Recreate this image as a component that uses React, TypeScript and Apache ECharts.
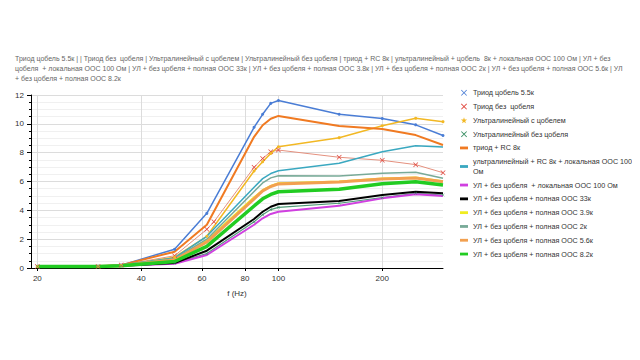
import React, { useEffect, useRef } from "react";
import * as echarts from "echarts";

const FREQ_A = [20, 30, 35, 50, 62, 85, 90, 95, 100, 150, 200, 250, 300];
const FREQ_B = [20, 30, 35, 50, 62, 65, 85, 90, 95, 100, 150, 200, 250, 300];
const X_TICKS = [20, 40, 60, 80, 100, 200];

const triodeZobel55 = [0.1, 0.12, 0.2, 1.3, 3.79, 9.76, 10.66, 11.42, 11.62, 10.67, 10.37, 9.93, 9.19];
const triodeNoZobel = [0.1, 0.1, 0.2, 0.85, 2.68, 3.2, 6.98, 7.6, 8.07, 8.18, 7.68, 7.47, 7.17, 6.61];
const ulZobel = [0.1, 0.1, 0.18, 0.75, 2.2, 6.73, 7.37, 7.95, 8.41, 9.04, 9.87, 10.38, 10.15];
const ulNoZobel = [0.1, 0.1, 0.15, 0.35, 1.0, 3.2, 3.7, 4.05, 4.21, 4.49, 4.88, 5.18, 5.06];
const triodeRC = [0.1, 0.1, 0.2, 1.13, 3.0, 9.1, 9.9, 10.35, 10.55, 9.85, 9.64, 9.22, 8.53];
const ulRCLocal = [0.1, 0.1, 0.2, 0.7, 2.2, 5.6, 6.2, 6.55, 6.75, 7.26, 8.07, 8.48, 8.39];
const ulLocal100 = [0.1, 0.1, 0.15, 0.3, 0.9, 3.0, 3.45, 3.75, 3.9, 4.32, 4.83, 5.11, 4.99];
const fb33 = [0.1, 0.1, 0.15, 0.35, 1.2, 3.4, 3.9, 4.25, 4.44, 4.65, 5.06, 5.29, 5.18];
const fb39 = [0.1, 0.1, 0.15, 0.6, 1.9, 4.9, 5.4, 5.7, 5.88, 6.0, 6.2, 6.28, 6.02];
const fb2 = [0.1, 0.1, 0.15, 0.65, 2.0, 5.3, 5.9, 6.25, 6.4, 6.38, 6.57, 6.64, 6.22];
const fb56 = [0.1, 0.1, 0.15, 0.55, 1.8, 4.8, 5.35, 5.65, 5.83, 5.96, 6.17, 6.24, 5.98];
const fb82 = [0.1, 0.1, 0.15, 0.45, 1.5, 4.3, 4.8, 5.1, 5.29, 5.46, 5.85, 5.99, 5.76];

const TITLE_LINES = [
  "Триод цобель 5.5к | | Триод без  цобеля | Ультралинейный с цобелем | Ультралинейный без цобеля | триод + RC 8к | ультралинейный + цобель  8к + локальная ООС 100 Ом | УЛ + без",
  "цобеля  + локальная ООС 100 Ом | УЛ + без цобеля + полная ООС 33к | УЛ + без цобеля + полная ООС 3.8к | УЛ + без цобеля + полная ООС 2к | УЛ + без цобеля + полная ООС 5.6к | УЛ",
  "+ без цобеля + полная ООС 8.2к",
];

const X_PATH = "path://M0,1L1,0L5,4L9,0L10,1L6,5L10,9L9,10L5,6L1,10L0,9L4,5Z";
const STAR_PATH = "path://M5,0L6.2,3.6L10,3.6L6.9,5.8L8.1,9.5L5,7.3L1.9,9.5L3.1,5.8L0,3.6L3.8,3.6Z";
const BAR_PATH = "path://M0,0L10,0L10,3.5L0,3.5Z";

type S = { name: string; freqs: number[]; vals: number[]; color: string; width: number; symbol?: string; symbolSize?: number; icon: string; iconColor?: string };

const SERIES: S[] = [
  { name: "Триод цобель 5.5к", freqs: FREQ_A, vals: triodeZobel55, color: "#4a7dd5", width: 1.5, symbol: "circle", symbolSize: 3, icon: X_PATH },
  { name: "Триод без  цобеля", freqs: FREQ_B, vals: triodeNoZobel, color: "#e4907e", width: 1, symbol: X_PATH, symbolSize: 5, icon: X_PATH, iconColor: "#e0463c" },
  { name: "Ультралинейный с цобелем", freqs: FREQ_A, vals: ulZobel, color: "#f2b824", width: 1.5, symbol: "circle", symbolSize: 3, icon: STAR_PATH },
  { name: "Ультралинейный без цобеля", freqs: FREQ_A, vals: ulNoZobel, color: "#4f9a78", width: 1.2, symbol: X_PATH, symbolSize: 3, icon: X_PATH, iconColor: "#3a8f64" },
  { name: "триод + RC 8к", freqs: FREQ_A, vals: triodeRC, color: "#f07a22", width: 2, icon: BAR_PATH },
  { name: "ультралинейный + RC 8к + локальная ООС 100 Ом", freqs: FREQ_A, vals: ulRCLocal, color: "#3aa8c0", width: 1.5, icon: BAR_PATH },
  { name: "УЛ + без цобеля  + локальная ООС 100 Ом", freqs: FREQ_A, vals: ulLocal100, color: "#d040e0", width: 2, icon: BAR_PATH },
  { name: "УЛ + без цобеля + полная ООС 33к", freqs: FREQ_A, vals: fb33, color: "#000000", width: 2, icon: BAR_PATH },
  { name: "УЛ + без цобеля + полная ООС 3.9к", freqs: FREQ_A, vals: fb39, color: "#f0ec20", width: 2, icon: BAR_PATH },
  { name: "УЛ + без цобеля + полная ООС 2к", freqs: FREQ_A, vals: fb2, color: "#78aa98", width: 1.5, icon: BAR_PATH },
  { name: "УЛ + без цобеля + полная ООС 5.6к", freqs: FREQ_A, vals: fb56, color: "#f2a050", width: 3, icon: BAR_PATH },
  { name: "УЛ + без цобеля + полная ООС 8.2к", freqs: FREQ_A, vals: fb82, color: "#22cc22", width: 3.5, icon: BAR_PATH },
];

export default function App() {
  const ref = useRef<HTMLDivElement>(null);
  useEffect(() => {
    if (!ref.current) return;
    const chart = echarts.init(ref.current, undefined, { renderer: "svg" });
    const font = "Arial, 'Liberation Sans', sans-serif";
    chart.setOption({
      animation: false,
      textStyle: { fontFamily: font },
      title: {
        text: TITLE_LINES.join("\n"),
        left: 10,
        top: 48,
        textStyle: { fontSize: 7, fontWeight: "normal", color: "#666", lineHeight: 10, fontFamily: font },
      },
      legend: {
        orient: "vertical",
        left: 455,
        top: 83,
        itemGap: 4.3,
        itemWidth: 8,
        itemHeight: 6,
        symbolKeepAspect: true,
        textStyle: { fontSize: 7.2, color: "#333", lineHeight: 9.5, fontFamily: font },
        formatter: (n: string) =>
          n === "ультралинейный + RC 8к + локальная ООС 100 Ом" ? "ультралинейный + RC 8к + локальная ООС 100\nОм" : n,
        data: SERIES.map((s) => ({ name: s.name, icon: s.icon, itemStyle: { color: s.iconColor || s.color } })),
      },
      grid: { left: 31, right: 197, top: 95, bottom: 92 },
      xAxis: {
        type: "value",
        min: Math.log10(19.17),
        max: Math.log10(300),
        name: "f (Hz)",
        nameLocation: "middle",
        nameGap: 21,
        nameTextStyle: { fontSize: 8, color: "#333" },
        axisLine: { lineStyle: { color: "#000" } },
        axisTick: { show: true, length: 3, lineStyle: { color: "#000" }, customValues: X_TICKS.map((f) => Math.log10(f)) },
        axisLabel: {
          fontSize: 8,
          color: "#333",
          margin: 6,
          customValues: X_TICKS.map((f) => Math.log10(f)),
          formatter: (v: number) => String(Math.round(Math.pow(10, v))),
        },
        splitLine: { show: true, lineStyle: { color: "#dcdcdc" } },
      },
      yAxis: {
        type: "value",
        min: 0,
        max: 12,
        interval: 2,
        axisLine: { show: true, lineStyle: { color: "#000" } },
        axisTick: { show: true, length: 4, lineStyle: { color: "#000" } },
        minorTick: { show: true, splitNumber: 4, length: 2, lineStyle: { color: "#000" } },
        minorSplitLine: { show: true, lineStyle: { color: "#f0f0f0" } },
        splitLine: { lineStyle: { color: "#dcdcdc" } },
        axisLabel: { fontSize: 8, color: "#333", margin: 7 },
      },
      series: SERIES.map((s) => ({
        name: s.name,
        type: "line",
        data: s.freqs.map((f, i) => [Math.log10(f), s.vals[i]]),
        lineStyle: { color: s.color, width: s.width },
        itemStyle: { color: s.iconColor || s.color },
        showSymbol: !!s.symbol,
        symbol: s.symbol || "none",
        symbolSize: s.symbolSize || 0,
        z: 2,
      })),
    });
    return () => chart.dispose();
  }, []);
  return <div ref={ref} style={{ width: 640, height: 360, margin: -8 }} />;
}
